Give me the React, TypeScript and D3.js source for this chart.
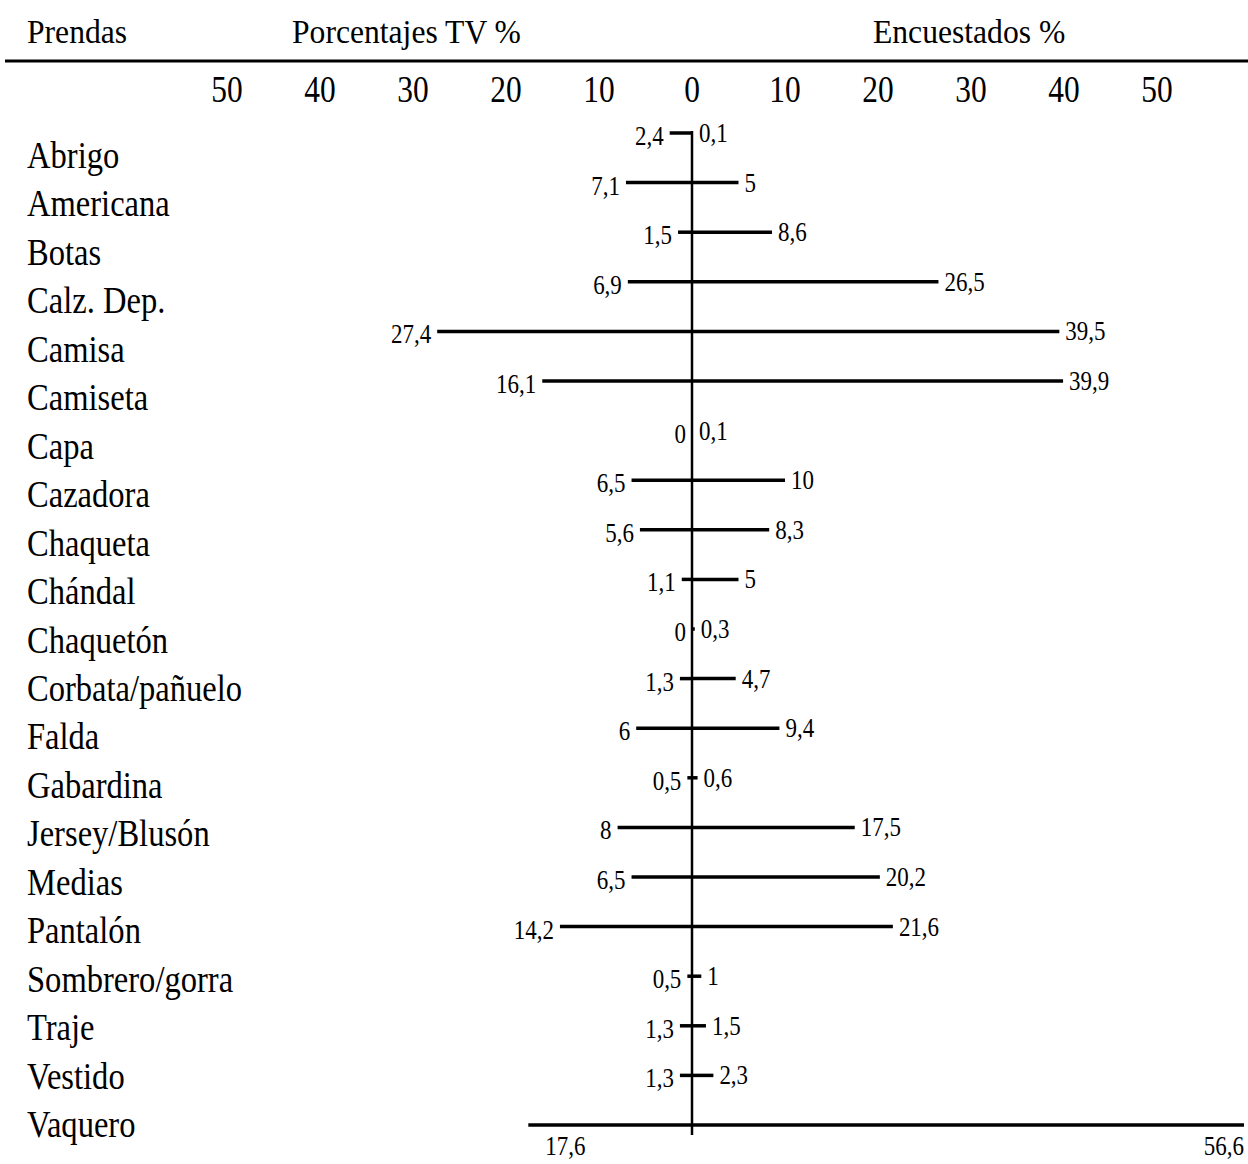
import React from "react";
import * as d3 from "d3";

// Prendas mostradas en televisión frente a las declaradas por los encuestados
const prendas = [
  "Abrigo", "Americana", "Botas", "Calz. Dep.", "Camisa", "Camiseta", "Capa",
  "Cazadora", "Chaqueta", "Chándal", "Chaquetón", "Corbata/pañuelo", "Falda",
  "Gabardina", "Jersey/Blusón", "Medias", "Pantalón", "Sombrero/gorra",
  "Traje", "Vestido", "Vaquero",
];
const porcentajesTV = [
  2.4, 7.1, 1.5, 6.9, 27.4, 16.1, 0, 6.5, 5.6, 1.1, 0, 1.3, 6, 0.5, 8, 6.5,
  14.2, 0.5, 1.3, 1.3, 17.6,
];
const encuestados = [
  0.1, 5, 8.6, 26.5, 39.5, 39.9, 0.1, 10, 8.3, 5, 0.3, 4.7, 9.4, 0.6, 17.5,
  20.2, 21.6, 1, 1.5, 2.3, 56.6,
];
const ticksIzq = [50, 40, 30, 20, 10];
const ticksDer = [0, 10, 20, 30, 40, 50];

const W = 1248;
const H = 1164;
const FONT = "'Liberation Serif', 'DejaVu Serif', serif";

const fmt = (v: number) => String(v).replace(".", ",");

// Texto estrecho, al estilo de una Times condensada
function T({
  x, y, size, sx, anchor = "start", children,
}: {
  x: number; y: number; size: number; sx: number;
  anchor?: "start" | "middle" | "end"; children: React.ReactNode;
}) {
  return (
    <text
      transform={`translate(${x},${y}) scale(${sx},1)`}
      fontSize={size}
      textAnchor={anchor}
      fill="#000"
    >
      {children}
    </text>
  );
}

export default function App() {
  // Eje horizontal: negativos = TV, positivos = encuestados
  const x = d3.scaleLinear().domain([-50, 50]).range([227, 1157]);
  const x0 = x(0);
  const yBar = d3.scalePoint<string>().domain(prendas).range([133, 1125]);
  const yLab = d3.scalePoint<string>().domain(prendas).range([168, 1137]);
  const maxV = 50;
  const VS = 28; // tamaño de los valores
  const VX = 0.82;

  return (
    <svg
      width={W}
      height={H}
      style={{ position: "absolute", left: 0, top: 0, background: "#fff" }}
      fontFamily={FONT}
    >
      {/* Cabecera */}
      <T x={27} y={43} size={34} sx={0.93}>Prendas</T>
      <T x={292} y={43} size={34} sx={0.93}>Porcentajes TV %</T>
      <T x={873} y={43} size={34} sx={0.93}>Encuestados %</T>
      <line x1={5} x2={W} y1={61} y2={61} stroke="#000" strokeWidth={3} />

      {/* Marcas del eje */}
      {ticksIzq.map((t) => (
        <T key={"l" + t} x={x(-t)} y={102} size={37} sx={0.85} anchor="middle">
          {t}
        </T>
      ))}
      {ticksDer.map((t) => (
        <T key={"r" + t} x={x(t)} y={102} size={37} sx={0.85} anchor="middle">
          {t}
        </T>
      ))}

      {/* Nombres de prendas */}
      {prendas.map((p) => (
        <T key={p} x={27} y={yLab(p)!} size={37} sx={0.88}>
          {p}
        </T>
      ))}

      {/* Eje central */}
      <line
        x1={x0}
        x2={x0}
        y1={yBar(prendas[0])! - 2}
        y2={yBar(prendas[prendas.length - 1])! + 10}
        stroke="#000"
        strokeWidth={2.5}
      />

      {/* Barras y valores */}
      {prendas.map((p, i) => {
        const y = yBar(p)!;
        const tv = porcentajesTV[i];
        const en = encuestados[i];
        const fuera = en > maxV;
        const xl = x(-tv);
        const xr = fuera ? W - 4 : x(en);
        return (
          <g key={p}>
            {tv > 0 && (
              <line x1={xl} x2={x0} y1={y} y2={y} stroke="#000" strokeWidth={3.5} />
            )}
            {en > 0 && (
              <line x1={x0} x2={xr} y1={y} y2={y} stroke="#000" strokeWidth={3.5} />
            )}
            {fuera ? (
              <>
                <T x={xl + 17} y={y + 30} size={VS} sx={VX}>{fmt(tv)}</T>
                <T x={W - 4} y={y + 30} size={VS} sx={VX} anchor="end">
                  {fmt(en)}
                </T>
              </>
            ) : (
              <>
                <T x={xl - 6} y={y + 12} size={VS} sx={VX} anchor="end">
                  {fmt(tv)}
                </T>
                <T x={xr + 6} y={y + 9} size={VS} sx={VX}>
                  {fmt(en)}
                </T>
              </>
            )}
          </g>
        );
      })}
    </svg>
  );
}
